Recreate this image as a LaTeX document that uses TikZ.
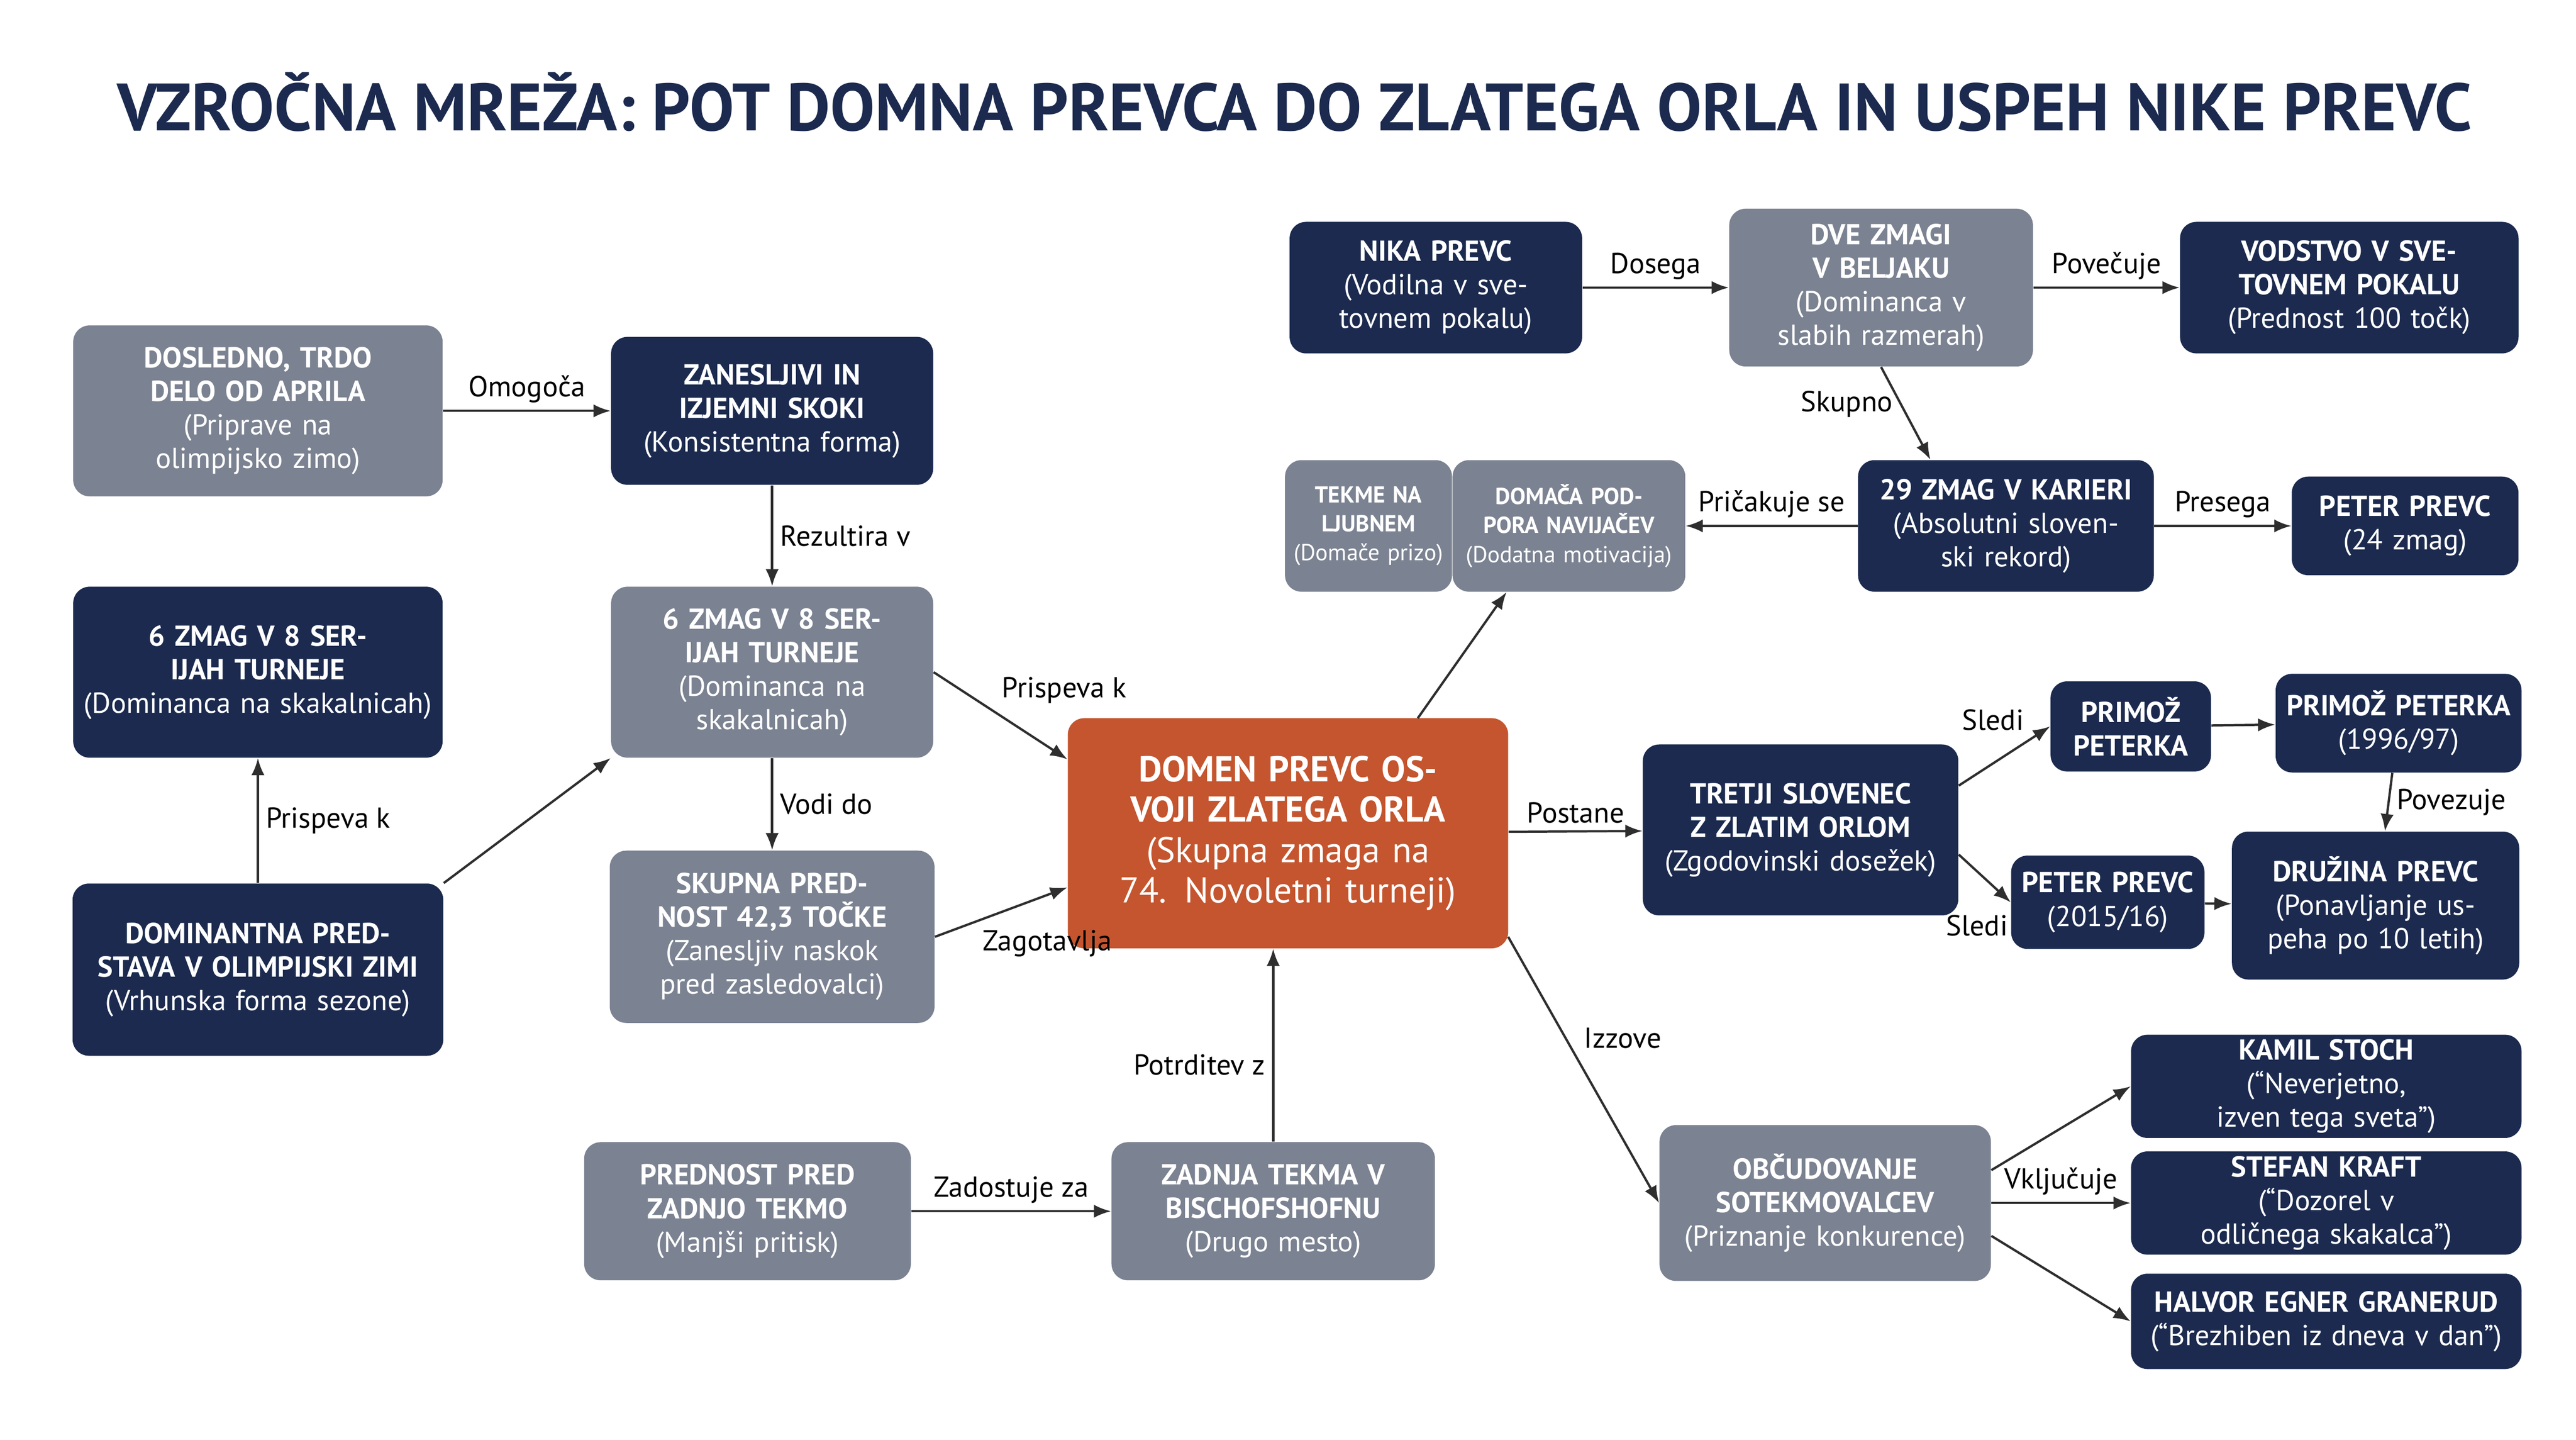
\documentclass[tikz,border=0pt]{standalone}
\usepackage{fontspec}
\setmainfont{PT Sans}
\usetikzlibrary{arrows.meta, positioning}
\definecolor{navy}{HTML}{1B2A4E}
\definecolor{slate}{HTML}{7B8291}
\definecolor{rust}{HTML}{C4552E}
\definecolor{edge}{HTML}{2E2E2E}
\tikzset{
	box/.style={
		rounded corners=0.25cm,
		text=white,
		align=center,
		inner sep=2pt,
		font=\fontsize{12.5}{14.5}\selectfont
	},
	dark/.style={box, fill=navy},
	grey/.style={box, fill=slate},
	small/.style={font=\fontsize{10}{12.5}\selectfont},
	conn/.style={draw=edge, line width=1pt, -{Latex[length=2.6mm,width=2mm]}},
	lab/.style={font=\fontsize{12.5}{14}\selectfont, text=black, inner sep=3pt}
}
\newcommand{\hd}[1]{\textbf{#1}}
\begin{document}
\begin{tikzpicture}[x=0.025cm, y=-0.025cm]
		\useasboundingbox[fill=white] (0,0) rectangle (1568,876);
		\node[text=navy, font=\fontsize{29}{32}\selectfont\bfseries] (title) at (788,62) {VZROČNA MREŽA: POT DOMNA PREVCA DO ZLATEGA ORLA IN USPEH NIKE PREVC};
		
		% zgornja vrsta
		\node[dark, minimum width=4.45cm, minimum height=2cm, text width=4.3cm] (nika) at (874,175) {\hd{NIKA PREVC}\\(Vodilna v svetovnem pokalu)};
		\node[grey, minimum width=4.62cm, minimum height=2.4cm, text width=4.3cm] (dve) at (1145,175) {\hd{DVE ZMAGI V BELJAKU}\\(Dominanca v slabih razmerah)};
		\node[dark, minimum width=5.15cm, minimum height=2cm, text width=5cm] (vodstvo) at (1430,175) {\hd{VODSTVO V SVETOVNEM POKALU}\\(Prednost 100 točk)};
		\node[dark, minimum width=4.5cm, minimum height=2cm, text width=4.3cm] (kariera) at (1221,320) {\hd{29 ZMAG V KARIERI}\\(Absolutni slovenski rekord)};
		\node[dark, minimum width=3.45cm, minimum height=1.5cm, text width=3.3cm] (peter24) at (1464,320) {\hd{PETER PREVC}\\(24 zmag)};
		\node[grey, small, minimum width=3.5cm, minimum height=2cm, text width=3.4cm] (podpora) at (955,320) {\hd{DOMAČA PODPORA NAVIJAČEV}\\(Dodatna motivacija)};
		\node[grey, small, minimum width=2.47cm, minimum height=2cm, text width=2.4cm] (tekme) at (833,320) {\hd{TEKME NA LJUBNEM}\\(Domače prizo)};
		
		% levi del
		\node[grey, minimum width=5.62cm, minimum height=2.6cm, text width=5.3cm] (delo) at (157,250) {\hd{DOSLEDNO, TRDO DELO OD APRILA}\\(Priprave na olimpijsko zimo)};
		\node[dark, minimum width=4.9cm, minimum height=2.25cm, text width=4.6cm] (skoki) at (470,250) {\hd{ZANESLJIVI IN IZJEMNI SKOKI}\\(Konsistentna forma)};
		\node[dark, minimum width=5.62cm, minimum height=2.6cm, text width=5.3cm] (serijeL) at (157,409) {\hd{6 ZMAG V 8 SERIJAH TURNEJE}\\(Dominanca na skakalnicah)};
		\node[grey, minimum width=4.9cm, minimum height=2.6cm, text width=4.6cm] (serijeS) at (470,409) {\hd{6 ZMAG V 8 SERIJAH TURNEJE}\\(Dominanca na skakalnicah)};
		\node[dark, minimum width=5.62cm, minimum height=2.62cm, text width=5.5cm] (olimp) at (157,590) {\hd{DOMINANTNA PREDSTAVA V OLIMPIJSKI ZIMI}\\(Vrhunska forma sezone)};
		\node[grey, minimum width=4.9cm, minimum height=2.62cm, text width=4.8cm] (skupna) at (470,570) {\hd{SKUPNA PREDNOST 42,3 TOČKE}\\(Zanesljiv naskok pred zasledovalci)};
		\node[grey, minimum width=4.97cm, minimum height=2.1cm, text width=4.6cm] (pritisk) at (455,737) {\hd{PREDNOST PRED ZADNJO TEKMO}\\(Manjši pritisk)};
		\node[grey, minimum width=4.92cm, minimum height=2.1cm, text width=4.6cm] (zadnja) at (775,737) {\hd{ZADNJA TEKMA V BISCHOFSHOFNU}\\(Drugo mesto)};
		
		% sredina
		\node[box, fill=rust, minimum width=6.7cm, minimum height=3.5cm, text width=6.3cm, font=\fontsize{15.5}{17.5}\selectfont] (orel) at (784,507) {\hd{DOMEN PREVC OSVOJI ZLATEGA ORLA}\\(Skupna zmaga na 74. Novoletni turneji)};
		
		% desni del
		\node[dark, minimum width=4.8cm, minimum height=2.6cm, text width=4.6cm] (tretji) at (1096,505) {\hd{TRETJI SLOVENEC Z ZLATIM ORLOM}\\(Zgodovinski dosežek)};
		\node[dark, minimum width=2.37cm, minimum height=1.37cm, text width=2.3cm] (primoz) at (1297,442) {\hd{PRIMOŽ PETERKA}};
		\node[dark, minimum width=3.62cm, minimum height=1.5cm, text width=3.6cm] (peterka) at (1460,440) {\hd{PRIMOŽ PETERKA}\\(1996/97)};
		\node[dark, minimum width=2.85cm, minimum height=1.42cm, text width=2.8cm] (peter15) at (1283,549) {\hd{PETER PREVC}\\(2015/16)};
		\node[dark, minimum width=4.37cm, minimum height=2.25cm, text width=4.2cm] (druzina) at (1446,551) {\hd{DRUŽINA PREVC}\\(Ponavljanje uspeha po 10 letih)};
		\node[grey, minimum width=4.95cm, minimum height=2.37cm, text width=4.9cm] (obcud) at (1111,732) {\hd{OBČUDOVANJE SOTEKMOVALCEV}\\(Priznanje konkurence)};
		\node[dark, minimum width=5.82cm, minimum height=1.45cm, text width=5.8cm] (stoch) at (1416,661) {\hd{KAMIL STOCH}\\(“Neverjetno, izven tega sveta”)};
		\node[dark, minimum width=5.82cm, minimum height=1.45cm, text width=5.8cm] (kraft) at (1416,732) {\hd{STEFAN KRAFT}\\(“Dozorel v odličnega skakalca”)};
		\node[dark, minimum width=5.82cm, minimum height=1.45cm, text width=5.8cm] (granerud) at (1416,804) {\hd{HALVOR EGNER GRANERUD}\\(“Brezhiben iz dneva v dan”)};
		
		% povezave
		\draw[conn] (delo) -- node[lab, above] {Omogoča} (skoki);
		\draw[conn] (skoki) -- node[lab, right] {Rezultira v} (serijeS);
		\draw[conn] (serijeS) -- node[lab, right] {Vodi do} (skupna);
		\draw[conn] (olimp) -- node[lab, right] {Prispeva k} (serijeL);
		\draw[conn] (olimp.north east) -- (serijeS.south west);
		\draw[conn] (serijeS.east) -- node[lab, above right, pos=0.45] {Prispeva k} (orel.north west |- 0,462);
		\draw[conn] (skupna.east) -- node[lab, below right, pos=0.3] {Zagotavlja} (orel.west |- 0,540);
		\draw[conn] (pritisk) -- node[lab, above] {Zadostuje za} (zadnja);
		\draw[conn] (zadnja) -- node[lab, left, pos=0.4] {Potrditev z} (zadnja |- orel.south);
		\draw[conn] (863,437) -- (podpora.south -| 917,0);
		\draw[conn] (orel) -- node[lab, above] {Postane} (tretji);
		\draw[conn] (918,570) -- node[lab, above right, pos=0.45] {Izzove} (obcud.west);
		\draw[conn] (tretji.east |- 0,478) -- node[lab, above left, pos=0.8] {Sledi} (primoz.west);
		\draw[conn] (tretji.east |- 0,520) -- node[lab, below left, pos=1.1] {Sledi} (peter15.west);
		\draw[conn] (primoz) -- (peterka);
		\draw[conn] (peterka) -- node[lab, right] {Povezuje} (druzina);
		\draw[conn] (peter15) -- (druzina);
		\draw[conn] (obcud.east |- 0,712) -- (stoch.west);
		\draw[conn] (obcud.east) -- node[lab, above] {Vključuje} (kraft.west);
		\draw[conn] (obcud.east |- 0,752) -- (granerud.west);
		\draw[conn] (nika) -- node[lab, above] {Dosega} (dve);
		\draw[conn] (dve) -- node[lab, above] {Povečuje} (vodstvo);
		\draw[conn] (dve.south) -- node[lab, left, pos=0.4] {Skupno} (kariera.north -| 1175,0);
		\draw[conn] (kariera) -- node[lab, above] {Pričakuje se} (podpora);
		\draw[conn] (kariera) -- node[lab, above] {Presega} (peter24);
		\end{tikzpicture}
\end{document}
